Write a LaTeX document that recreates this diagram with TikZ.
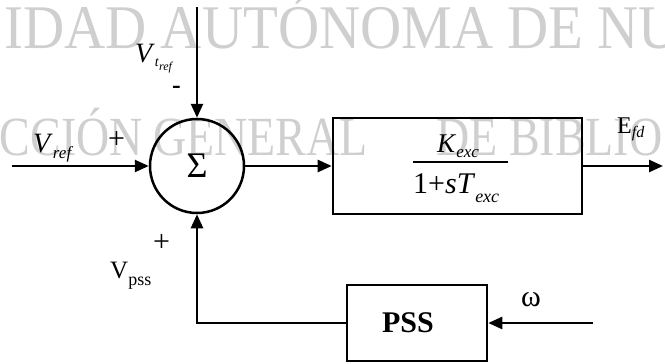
\documentclass[tikz,border=0pt]{standalone}
\usepackage{fontspec}
\setmainfont{Liberation Serif}
\usepackage{graphicx}
\usetikzlibrary{arrows.meta}
\newcommand\fsz[1]{\fontsize{#1}{#1}\selectfont}
\newcommand\lowsub[3]{\raisebox{-#2pt}{\fsz{#1}#3}}
\begin{document}
\begin{tikzpicture}[x=1pt,y=-1pt,
  arr/.style={line width=2.5pt,-{Triangle[length=14pt,width=12pt]}},
  lbl/.style={inner sep=0pt,anchor=base west},
  wm/.style={inner sep=0pt,text=black!19},
  blockbox/.style={draw,line width=2.6pt,inner sep=0pt},
  sumcirc/.style={draw,circle,line width=2.5pt,minimum size=94pt,inner sep=0pt}]
\useasboundingbox (0,0) rectangle (665,364);
\begin{scope}
\clip (0,0) rectangle (665,364);
\node[wm,anchor=base west] (wm1) at (4,48) {\fsz{57}\scalebox{1}[1.09]{IDAD AUTÓNOMA DE NU}};
\node[wm,anchor=base east] (wm2) at (143,155) {\fsz{46}\scalebox{1}[1.2]{CCIÓN}};
\node[wm,anchor=base west] (wm3) at (153,155) {\fsz{46}\scalebox{1}[1.2]{GENERAL}};
\node[wm,anchor=base west] (wm4) at (436,155) {\fsz{46}\scalebox{1}[1.2]{DE BIBLIO}};
\end{scope}
% blocks
\node[sumcirc] (sum) at (197,166) {\fsz{36}Σ};
\node[blockbox,minimum width=249pt,minimum height=96pt] (blk) at (457.5,166) {};
\node[blockbox,minimum width=140pt,minimum height=76pt] (pss) at (417,323) {{\fsz{30}\bfseries PSS}\hspace*{18pt}};
% fraction
\node[lbl] (num) at (437,152) {\fsz{27}\textit{K}\lowsub{17}{5}{\textit{exc}}};
\node[lbl] (den) at (413,193) {\fsz{30}1+\textit{sT}\lowsub{18}{9}{\textit{exc}}};
\coordinate (fl) at (413,162);
\coordinate (fr) at (508,162);
\draw[line width=2.2pt] (fl) -- (fr);
% labels
\node[lbl] (vtref) at (135,62) {\fsz{28}\textit{V}\lowsub{14}{5}{\textit{t}}\lowsub{12}{9}{\textit{ref}}};
\node[lbl] (minus) at (172,93.5) {\fsz{26}\bfseries -};
\node[lbl] (vref) at (33,152) {\fsz{28}\textit{V}\lowsub{17}{6}{\textit{ref}}};
\node[lbl] (p1) at (108,148.5) {\fsz{30}+};
\node[lbl] (p2) at (153,251.5) {\fsz{30}+};
\node[lbl] (vpss) at (110,278) {\fsz{25}V\lowsub{18}{7}{pss}};
\node[lbl] (efd) at (617,133) {\fsz{24}E\lowsub{16}{4}{\textit{fd}}};
\node[inner sep=0pt] (om) at (531,300) {\fsz{30}ω};
% connectors
\coordinate (vtop) at (197,7);
\coordinate (vin) at (12,166);
\coordinate (eout) at (663,166);
\coordinate (win) at (593,323);
\draw[arr] (vtop) -- (sum.north);
\draw[arr] (vin) -- (sum.west);
\draw[arr] (sum.east) -- (blk.west);
\draw[arr] (blk.east) -- (eout);
\draw[arr] (win) -- (pss.east);
\draw[arr] (pss.west) -| (sum.south);
\end{tikzpicture}
\end{document}
